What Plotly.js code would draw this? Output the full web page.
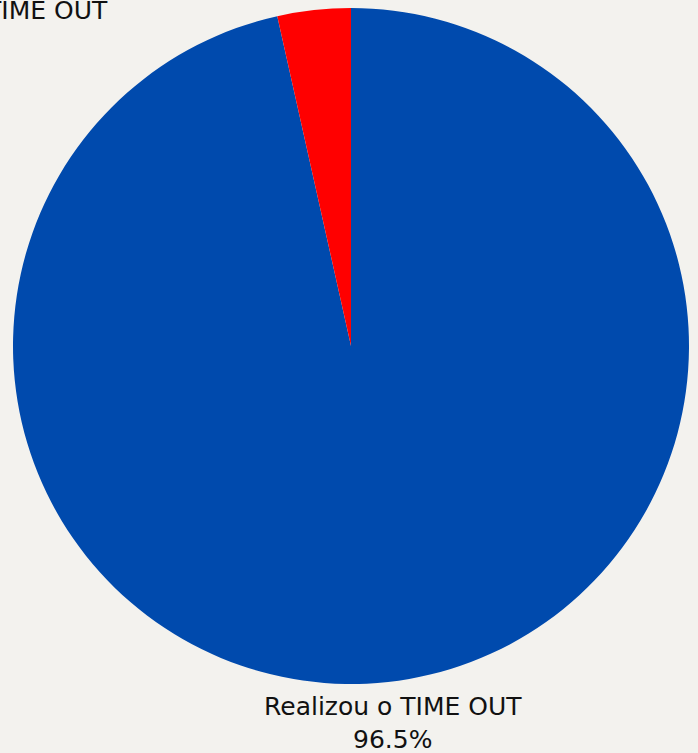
<!DOCTYPE html>
<html><head><meta charset="utf-8">
<script src="https://cdn.plot.ly/plotly-3.0.1.min.js"></script>
<style>html,body{margin:0;padding:0;background:#f3f2ee;}</style>
</head><body>
<div id="chart" style="width:698px;height:753px;"></div>
<script>
const labels = ["Realizou o TIME OUT", "Não realizou o TIME OUT"];
const values = [96.5, 3.5];
const colors = ["#004aad", "#ff0000"];

const W = 698, H = 753;
const M = {l: 13, r: 9, t: 8, b: 69};
const pw = W - M.l - M.r, ph = H - M.t - M.b;
const px2x = p => (p - M.l) / pw;
const py2y = p => (H - M.b - p) / ph;

const total = values.reduce((a, b) => a + b, 0);
const pct = v => (v / total * 100).toFixed(1) + "%";
const txt = i => labels[i] + "<br>" + pct(values[i]);

const font = {family: "DejaVu Sans, sans-serif", size: 25, color: "#111111"};

Plotly.newPlot("chart", [{
  type: "pie",
  labels: labels,
  values: values,
  sort: false,
  direction: "clockwise",
  rotation: 0,
  marker: {colors: colors, line: {width: 0}},
  textinfo: "none",
  hoverinfo: "label+percent",
  automargin: false
}], {
  width: W, height: H,
  paper_bgcolor: "#f3f2ee",
  plot_bgcolor: "#f3f2ee",
  showlegend: false,
  margin: M,
  annotations: [
    {text: txt(0), xref: "paper", yref: "paper", x: px2x(393), y: py2y(691),
     xanchor: "center", yanchor: "top", showarrow: false, align: "center", font: font, borderpad: 0},
    {text: txt(1), xref: "paper", yref: "paper", x: px2x(109), y: py2y(-5),
     xanchor: "right", yanchor: "top", showarrow: false, align: "center", font: font, borderpad: 0}
  ]
}, {displayModeBar: false, staticPlot: true});
</script>
</body></html>
